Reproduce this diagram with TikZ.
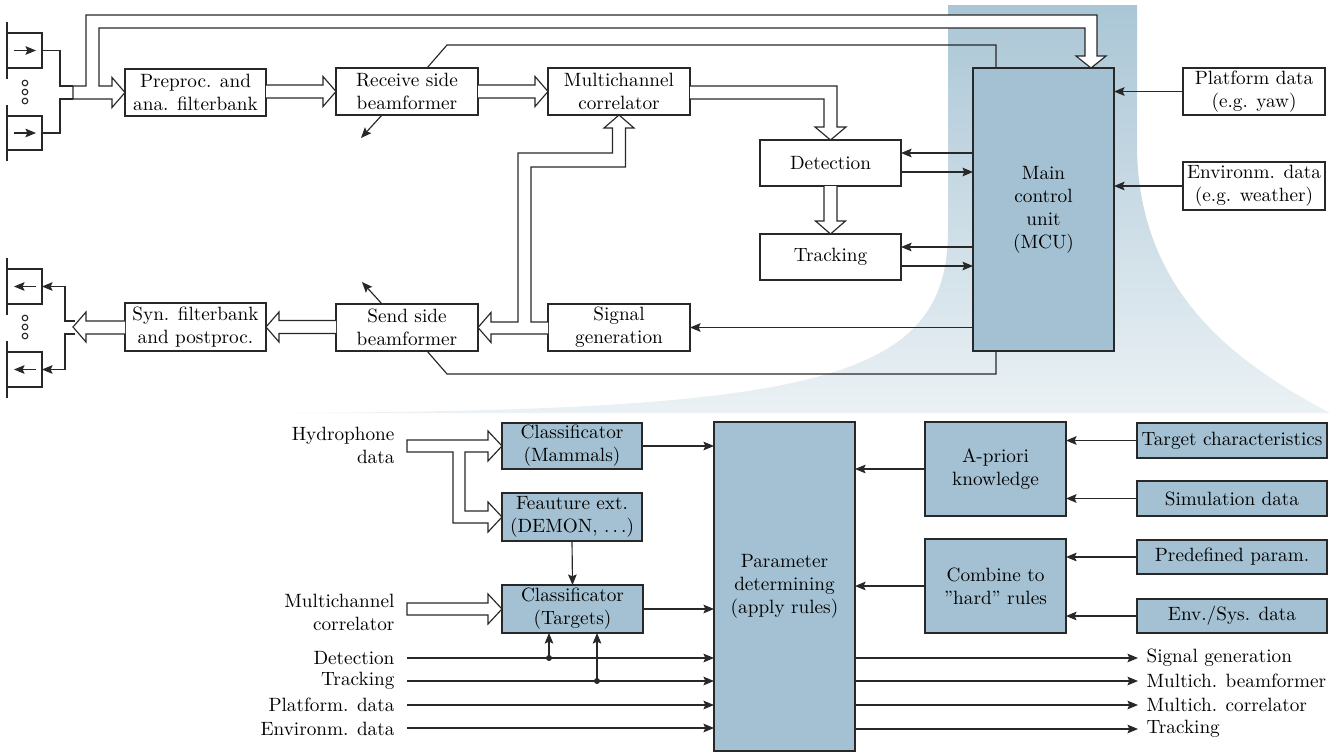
\documentclass[tikz,border=0pt]{standalone}
\usetikzlibrary{arrows.meta,calc}
\definecolor{boxblue}{RGB}{163,193,210}
\definecolor{linec}{RGB}{40,40,40}
\newcommand\bx[7]{\node[#6, minimum width={(#4-#2)*0.52pt}, minimum height={(#5-#3)*0.52pt}] (#1) at ({(#2+#4)/2},{(#3+#5)/2}) {#7};}
\newcommand\hollowR[2]{\draw[hol] ($(#1.east |- #2.west)+(0,-6.5)$) -- ($(#2.west)+(-13,-6.5)$) -- ++(0,-8.5) -- (#2.west) -- ++(-13,15) -- ++(0,-8.5) -- ($(#1.east |- #2.west)+(0,6.5)$);}
\newcommand\hollowL[2]{\draw[hol] ($(#1.west |- #2.east)+(0,-6.5)$) -- ($(#2.east)+(13,-6.5)$) -- ++(0,-8.5) -- (#2.east) -- ++(13,15) -- ++(0,-8.5) -- ($(#1.west |- #2.east)+(0,6.5)$);}
\newcommand\hollowD[2]{\draw[hol] ($(#1.south -| #2.north)+(-6.5,0)$) -- ($(#2.north)+(-6.5,-13)$) -- ++(-8.5,0) -- (#2.north) -- ++(15,-13) -- ++(-8.5,0) -- ($(#1.south -| #2.north)+(6.5,0)$);}
\begin{document}
\begin{tikzpicture}[x=0.52pt,y=-0.52pt, line width=0.6pt, color=linec,
  box/.style={draw=linec, fill=white, text=black, align=center, inner sep=0pt, outer sep=0pt},
  bbox/.style={box, fill=boxblue},
  hyd/.style={draw=linec, inner sep=0pt, outer sep=0pt},
  lab/.style={text=black, inner sep=0pt, align=right, anchor=east},
  rlab/.style={text=black, inner sep=0pt, align=left, anchor=west},
  arr/.style={-{Stealth[length=5.5pt,width=4.5pt,inset=1pt]}, draw=linec},
  hol/.style={draw=linec, fill=white, line join=miter}]
\useasboundingbox (0,0) rectangle (1336,753);

% background funnel
\shade[top color=boxblue!92, bottom color=boxblue!22]
  (948,5) -- (1137,5) -- (1137,150) .. controls (1140,290) and (1230,360) .. (1330,413)
  -- (292,413) .. controls (820,410) and (948,380) .. (948,230) -- cycle;

% ---------------- top part ----------------
\bx{h1}{7}{33}{42}{68}{hyd}{}
\bx{h2}{7}{116}{42}{150}{hyd}{}
\bx{o1}{7}{269}{42}{304}{hyd}{}
\bx{o2}{7}{352}{42}{387}{hyd}{}
\foreach \n in {h1,h2,o1,o2}{
  \draw ($(\n.north west)+(0,-11)$) -- ($(\n.south west)+(0,11)$);
}
\draw[arr] ($(h1.west)+(7,0)$) -- ($(h1.east)+(-6,0)$);
\draw[arr] ($(h2.west)+(7,0)$) -- ($(h2.east)+(-6,0)$);
\draw[arr] ($(o1.east)+(-6,0)$) -- ($(o1.west)+(7,0)$);
\draw[arr] ($(o2.east)+(-6,0)$) -- ($(o2.west)+(7,0)$);
\foreach \y in {83,92,101}{ \draw[fill=white] (25,\y) circle (2.8); }
\foreach \y in {318,327,336}{ \draw[fill=white] (25,\y) circle (2.8); }

\bx{pre}{125}{69}{266}{116}{box}{Preproc. and\\ana. filterbank}
\bx{rec}{336}{68}{478}{115}{box}{Receive side\\beamformer}
\bx{mcor}{548}{68}{690}{115}{box}{Multichannel\\correlator}
\bx{det}{760}{140}{901}{186}{box}{Detection}
\bx{trk}{760}{234}{901}{280}{box}{Tracking}
\bx{mcu}{973}{68}{1114}{351}{bbox}{Main\\control\\unit\\(MCU)}
\bx{plat}{1183}{68}{1325}{115}{box}{Platform data\\(e.g. yaw)}
\bx{env}{1183}{162}{1325}{210}{box}{Environm. data\\(e.g. weather)}
\bx{sig}{548}{304}{690}{351}{box}{Signal\\generation}
\bx{snd}{336}{304}{478}{351}{box}{Send side\\beamformer}
\bx{syn}{125}{303}{266}{351}{box}{Syn. filterbank\\and postproc.}

% hydrophone inputs -> hollow arrow to preproc and MCU
\draw (h1.east) -- (60,50.5) -- (60,86) -- (73,86);
\draw (h2.east) -- (60,133) -- (60,99) -- (73,99);
\draw[hol] (73,86) -- (86,86) -- (86,15) -- (1097,15) -- (1097,56) -- (1106,56)
  -- (mcu.north -| 1091,0) -- (1076,56) -- (1085,56) -- (1085,28) -- (99,28) -- (99,86)
  -- (112,86) -- (112,77.5) -- (pre.west) -- (112,107.5) -- (112,99) -- (73,99) -- cycle;

\hollowR{pre}{rec}
\hollowR{rec}{mcor}
\draw[hol] (mcor.east |- 0,86) -- (837,86) -- (837,127) -- (846,127) -- (det.north)
  -- (815,127) -- (824,127) -- (824,99) -- (mcor.east |- 0,99);
\hollowD{det}{trk}

% signal generation -> send side + multichannel correlator
\draw[hol] (sig.west |- 0,334) -- (491,334) -- (491,342.5) -- (snd.east) -- (491,312.5)
  -- (491,322) -- (518,322) -- (518,153) -- (612.5,153) -- (612.5,128) -- (604,128)
  -- (mcor.south) -- (634,128) -- (625.5,128) -- (625.5,167) -- (531,167) -- (531,322)
  -- (sig.west |- 0,322);
\hollowL{snd}{syn}
\coordinate (synout) at (73,327);
\draw[hol] (syn.west |- 0,321) -- (86,321) -- (86,312) -- (synout) -- (86,342) -- (86,334) -- (syn.west |- 0,334);
\draw[arr] (75,321) -- (65,321) -- (65,286.5) -- (o1.east);
\draw[arr] (75,334) -- (65,334) -- (65,369.5) -- (o2.east);

% MCU connections
\draw[arr] (mcu.west |- 0,153) -- (det.east |- 0,153);
\draw[arr] (det.east |- 0,172) -- (mcu.west |- 0,172);
\draw[arr] (mcu.west |- 0,247) -- (trk.east |- 0,247);
\draw[arr] (trk.east |- 0,266) -- (mcu.west |- 0,266);
\draw[arr] (plat.west) -- (mcu.east |- plat.west);
\draw[arr] (env.west) -- (mcu.east |- env.west);
\draw[arr] (mcu.west |- sig.east) -- (sig.east);
\draw (rec.north -| 427,0) -- (447,45) -- (996,45) -- (mcu.north -| 996,0);
\draw (snd.south -| 427,0) -- (447,374) -- (996,374) -- (mcu.south -| 996,0);
\coordinate (rfree) at (361,138);
\coordinate (sfree) at (362,282);
\draw[arr] (rec.south -| 382,0) -- (rfree);
\draw[arr] (snd.north -| 382,0) -- (sfree);

% ---------------- bottom part ----------------
\bx{cm}{502}{423}{642}{469}{bbox}{Classificator\\(Mammals)}
\bx{fe}{502}{493}{642}{541}{bbox}{Feauture ext.\\(DEMON, $\ldots$)}
\bx{ct}{502}{585}{643}{633}{bbox}{Classificator\\(Targets)}
\bx{par}{714}{422}{855}{751}{bbox}{Parameter\\determining\\(apply rules)}
\bx{apk}{925}{422}{1066}{516}{bbox}{A-priori\\knowledge}
\bx{cmb}{925}{539}{1066}{633}{bbox}{Combine to\\''hard'' rules}
\bx{tc}{1137}{423}{1327}{458}{bbox}{Target characteristics}
\bx{sim}{1137}{481}{1327}{516}{bbox}{Simulation data}
\bx{pdp}{1137}{540}{1327}{574}{bbox}{Predefined param.}
\bx{esd}{1137}{599}{1327}{633}{bbox}{Env./Sys. data}

\node[lab] (lhyd) at (395,445) {Hydrophone\\data};
\node[lab] (lmc) at (395,612) {Multichannel\\correlator};
\node[lab] (ldet) at (395,658) {Detection};
\node[lab] (ltrk) at (395,681) {Tracking};
\node[lab] (lpla) at (395,705) {Platform. data};
\node[lab] (lenv) at (395,729) {Environm. data};

\draw[hol] (407,440) -- (488,440) -- (488,431) -- (cm.west) -- (488,461) -- (488,452)
  -- (465,452) -- (465,511) -- (488,511) -- (488,502) -- (fe.west) -- (488,532) -- (488,523)
  -- (453,523) -- (453,452) -- (407,452) -- cycle;
\draw[hol] (407,603) -- (488,603) -- (488,594) -- (ct.west) -- (488,624) -- (488,615) -- (407,615) -- cycle;

\draw[arr] (fe.south) -- (ct.north);
\draw[arr] (cm.east) -- (cm.east -| par.west);
\draw[arr] (ct.east) -- (ct.east -| par.west);

\coordinate (idet) at (407,658);
\coordinate (itrk) at (407,681);
\coordinate (ipla) at (407,705);
\coordinate (ienv) at (407,728);
\foreach \c in {idet,itrk,ipla,ienv}{ \draw[arr] (\c) -- (\c -| par.west); }
\coordinate (jd) at (549,658);
\coordinate (jt) at (597,681);
\fill[linec] (jd) circle (3);
\fill[linec] (jt) circle (3);
\draw[arr] (jd) -- (jd |- ct.south);
\draw[arr] (jt) -- (jt |- ct.south);

\node[rlab] (osig) at (1146,658) {Signal generation};
\node[rlab] (obf) at (1146,681) {Multich. beamformer};
\node[rlab] (ocor) at (1146,705) {Multich. correlator};
\node[rlab] (otrk) at (1146,729) {Tracking};
\foreach \o in {osig,obf,ocor,otrk}{ \draw[arr] (par.east |- \o.west) -- ($(\o.west)+(-8,0)$); }

\draw[arr] (apk.west) -- (apk.west -| par.east);
\draw[arr] (cmb.west) -- (cmb.west -| par.east);
\draw[arr] (tc.west) -- (tc.west -| apk.east);
\draw[arr] (sim.west) -- (sim.west -| apk.east);
\draw[arr] (pdp.west) -- (pdp.west -| cmb.east);
\draw[arr] (esd.west) -- (esd.west -| cmb.east);
\end{tikzpicture}
\end{document}
